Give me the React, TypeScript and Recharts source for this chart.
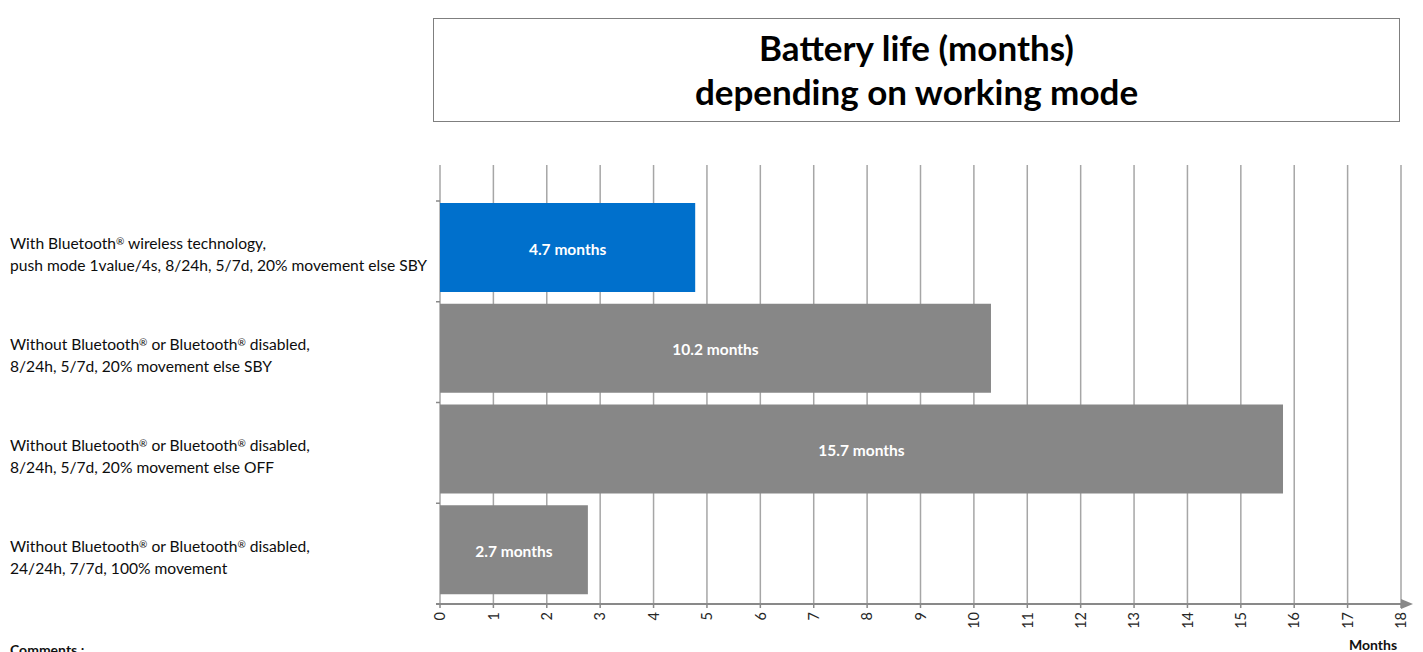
import React from 'react';
import { BarChart, Bar, XAxis, YAxis, CartesianGrid, Cell, LabelList, Rectangle } from 'recharts';

// ---- data ----
const categories = ['bt', 'sby', 'off', 'full'];
const categoryLines = [
  ['With Bluetooth® wireless technology,', 'push mode 1value/4s, 8/24h, 5/7d, 20% movement else SBY'],
  ['Without Bluetooth® or Bluetooth® disabled,', '8/24h, 5/7d, 20% movement else SBY'],
  ['Without Bluetooth® or Bluetooth® disabled,', '8/24h, 5/7d, 20% movement else OFF'],
  ['Without Bluetooth® or Bluetooth® disabled,', '24/24h, 7/7d, 100% movement'],
];
const barValues = [4.78, 10.32, 15.79, 2.77];
const barLabels = ['4.7 months', '10.2 months', '15.7 months', '2.7 months'];
const barColors = ['#0070CC', '#878787', '#878787', '#878787'];
const xTicks = [0, 1, 2, 3, 4, 5, 6, 7, 8, 9, 10, 11, 12, 13, 14, 15, 16, 17, 18];
const titleLines = ['Battery life (months)', 'depending on working mode'];
const axisTitle = 'Months';
const commentsText = 'Comments :';

const data = categories.map((key, i) => ({
  key,
  lines: categoryLines[i],
  value: barValues[i],
  label: barLabels[i],
}));

// ---- layout ----
const W = 1423;
const H = 652;
const PLOT_TOP = 165;
const PLOT_BOTTOM = 604;
const CAT_PAD_TOP = 36;
const BAND = (PLOT_BOTTOM - PLOT_TOP - CAT_PAD_TOP) / categories.length;
const BAR_SHIFT = -4;
const FONT = 'Lato, "Open Sans", sans-serif';
const GRID = '#a6a6a6';
const AXIS = '#898989';

const XTick = (props: any) => {
  const { x, payload } = props;
  const isLast = payload.value === xTicks[xTicks.length - 1];
  return (
    <g>
      <text
        x={0}
        y={0}
        transform={`translate(${x},${PLOT_BOTTOM + 8}) rotate(-90)`}
        textAnchor="end"
        dy="0.36em"
        fontSize={14.5}
        fontFamily={FONT}
        fill="#262626"
      >
        {payload.value}
      </text>
      {isLast && (
        <polygon
          points={`${x},${PLOT_BOTTOM - 5} ${x},${PLOT_BOTTOM + 5} ${x + 12},${PLOT_BOTTOM}`}
          fill={AXIS}
        />
      )}
    </g>
  );
};

const renderWithReg = (s: string) => {
  const parts = s.split('®');
  const out: any[] = [];
  parts.forEach((p, i) => {
    out.push(<tspan key={`t${i}`}>{p}</tspan>);
    if (i < parts.length - 1) {
      out.push(
        <tspan key={`r${i}`} fontSize={10} baselineShift="40%">
          ®
        </tspan>
      );
    }
  });
  return out;
};

const YTick = (props: any) => {
  const { y, payload, index } = props;
  const lines: string[] = categoryLines[index] || [];
  const top = y - BAND / 2;
  const isLast = index === categories.length - 1;
  return (
    <g>
      <line x1={436} x2={440} y1={top} y2={top} stroke={AXIS} strokeWidth={1.5} />
      {isLast && (
        <line x1={436} x2={440} y1={y + BAND / 2} y2={y + BAND / 2} stroke={AXIS} strokeWidth={2} />
      )}
      {lines.map((ln, i) => (
        <text
          key={i}
          x={10}
          y={y - 2 + i * 22}
          textAnchor="start"
          fontSize={15.6}
          fontFamily={FONT}
          fill="#0d0d0d"
        >
          {renderWithReg(ln)}
        </text>
      ))}
      <title>{payload.value}</title>
    </g>
  );
};

const BarShape = (props: any) => <Rectangle {...props} y={props.y + BAR_SHIFT} />;

const BarLabel = (props: any) => {
  const { x, y, width, height, value } = props;
  return (
    <text
      x={x + width / 2}
      y={y + height / 2 + BAR_SHIFT + 1}
      textAnchor="middle"
      dominantBaseline="central"
      fill="#fff"
      fontSize={15.5}
      fontWeight={700}
      fontFamily={FONT}
    >
      {value}
    </text>
  );
};

export default function App() {
  return (
    <div style={{ position: 'absolute', left: 0, top: 0, width: W, height: H, background: '#fff', overflow: 'hidden', fontFamily: FONT }}>
      <div
        style={{
          position: 'absolute',
          left: 433,
          top: 18,
          width: 967,
          height: 104,
          boxSizing: 'border-box',
          border: '1px solid #7f7f7f',
          textAlign: 'center',
          fontWeight: 700,
          fontSize: 35,
          color: '#000',
        }}
      >
        <div style={{ position: 'absolute', left: 0, right: 0, top: 6, lineHeight: '44px', whiteSpace: 'nowrap' }}>{titleLines[0]}</div>
        <div style={{ position: 'absolute', left: 0, right: 0, top: 50, lineHeight: '44px', whiteSpace: 'nowrap' }}>{titleLines[1]}</div>
      </div>
      <div style={{ position: 'absolute', left: 0, top: 0 }}>
        <BarChart
          layout="vertical"
          width={W}
          height={H}
          data={data}
          margin={{ top: PLOT_TOP, right: 22, bottom: 8, left: 10 }}
        >
          <CartesianGrid horizontal={false} stroke={GRID} strokeWidth={1.5} />
          <XAxis
            type="number"
            dataKey="value"
            domain={[0, 18]}
            ticks={xTicks}
            interval={0}
            allowDataOverflow
            height={40}
            axisLine={{ stroke: AXIS, strokeWidth: 2 }}
            tickLine={{ stroke: AXIS, strokeWidth: 1.5 }}
            tickSize={4}
            tick={<XTick />}
          />
          <YAxis
            type="category"
            dataKey="key"
            width={430}
            axisLine={false}
            tickLine={false}
            padding={{ top: CAT_PAD_TOP, bottom: 0 }}
            tick={<YTick />}
            interval={0}
          />
          <Bar dataKey="value" barSize={89} isAnimationActive={false} shape={<BarShape />}>
            {data.map((d, i) => (
              <Cell key={d.key} fill={barColors[i]} />
            ))}
            <LabelList dataKey="label" content={<BarLabel />} />
          </Bar>
        </BarChart>
      </div>
      <div style={{ position: 'absolute', left: 1349, top: 636, fontSize: 14, fontWeight: 700, color: '#111' }}>{axisTitle}</div>
      <div style={{ position: 'absolute', left: 10, top: 641, fontSize: 14, fontWeight: 700, color: '#111' }}>{commentsText}</div>
    </div>
  );
}
